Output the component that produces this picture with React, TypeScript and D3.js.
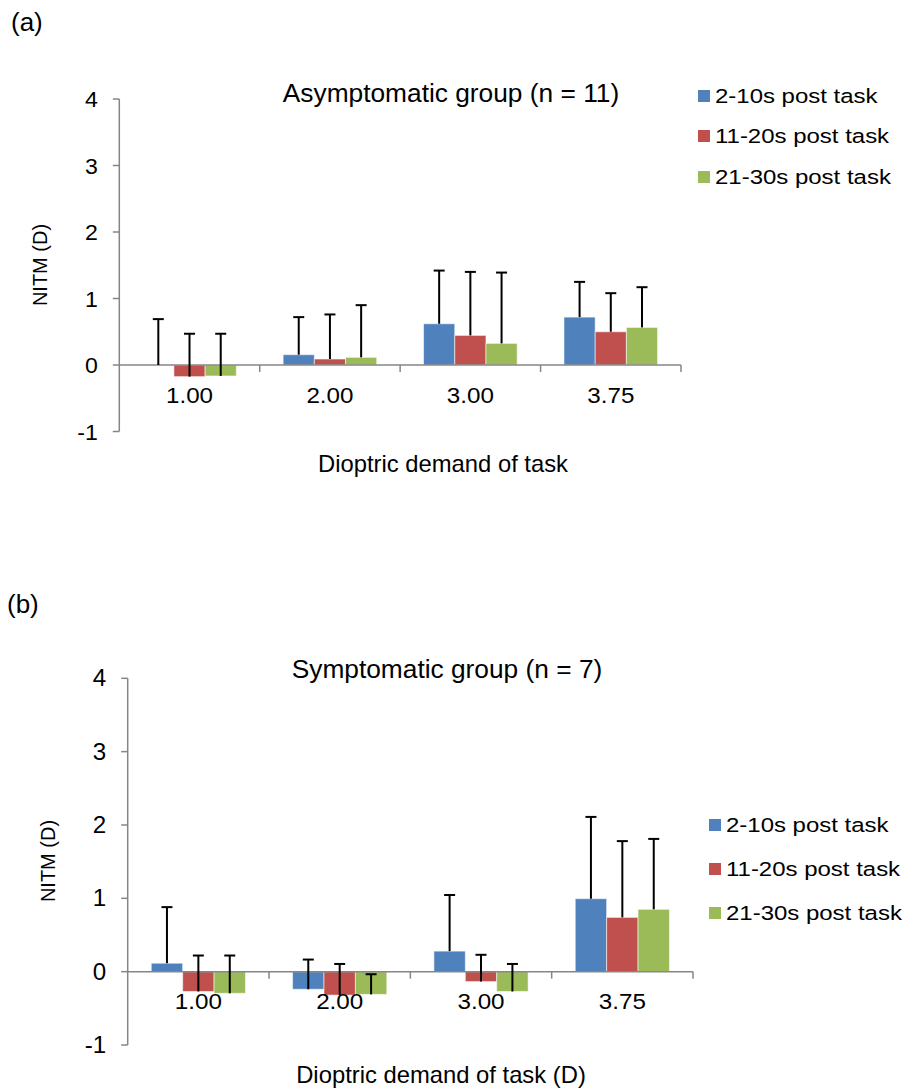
import { useEffect, useRef } from 'react';
import * as d3 from 'd3';

// Categories, series and tick values
const categories = ['1.00', '2.00', '3.00', '3.75'];
const seriesNames = ['2-10s post task', '11-20s post task', '21-30s post task'];
const seriesColors = ['#4F81BD', '#C0504D', '#9BBB59'];
const yTicks = [-1, 0, 1, 2, 3, 4];

// (a) Asymptomatic group, n = 11 : mean NITM (D)
const asymMean2to10 = [0, 0.155, 0.62, 0.72];
const asymMean11to20 = [-0.175, 0.09, 0.445, 0.5];
const asymMean21to30 = [-0.165, 0.115, 0.325, 0.565];
// (a) standard deviations (upper error bars)
const asymSd2to10 = [0.69, 0.565, 0.8, 0.53];
const asymSd11to20 = [0.645, 0.67, 0.955, 0.58];
const asymSd21to30 = [0.635, 0.785, 1.065, 0.605];

// (b) Symptomatic group, n = 7 : mean NITM (D)
const symMean2to10 = [0.115, -0.24, 0.28, 0.995];
const symMean11to20 = [-0.27, -0.32, -0.135, 0.74];
const symMean21to30 = [-0.295, -0.31, -0.27, 0.85];
// (b) standard deviations (upper error bars)
const symSd2to10 = [0.765, 0.405, 0.765, 1.115];
const symSd11to20 = [0.49, 0.425, 0.365, 1.04];
const symSd21to30 = [0.515, 0.275, 0.375, 0.96];

const FONT = '"Liberation Sans", Arial, sans-serif';
const AXIS = '#868686';

export default function App() {
  const svgRef = useRef<SVGSVGElement>(null);

  useEffect(() => {
    const svg = d3.select(svgRef.current);
    svg.selectAll('*').remove();

    // text helper, with optional horizontal stretch
    const addText = (g, str, x, y, size, anchor = 'start', sx = 1, rotate = 0) =>
      g.append('text')
        .attr('transform', `translate(${x},${y}) rotate(${rotate}) scale(${sx},1)`)
        .attr('text-anchor', anchor)
        .style('font-family', FONT)
        .style('font-size', `${size}px`)
        .style('fill', '#000')
        .text(str);

    const drawPanel = (cfg) => {
      const g = svg.append('g');
      const x0 = d3.scaleBand()
        .domain(categories)
        .range([cfg.left, cfg.right])
        .paddingInner(1 / 3)
        .paddingOuter(1 / 6);
      const x1 = d3.scaleBand()
        .domain(seriesNames)
        .range([0, x0.bandwidth()]);
      const y = d3.scaleLinear()
        .domain([-1, 4])
        .range([cfg.bottom, cfg.top]);
      const step = x0.step();

      // panel letter, title, axis titles
      addText(g, cfg.letter, cfg.letterX, cfg.letterY, 26);
      addText(g, cfg.title, cfg.titleX, cfg.titleY, 26.3, 'middle');
      addText(g, cfg.xLabel, cfg.xLabelX, cfg.xLabelY, 23.8, 'middle');
      addText(g, 'NITM (D)', cfg.yLabelX, cfg.yLabelY, 20, 'middle', 1, -90);

      // bars
      seriesNames.forEach((name, s) => {
        g.selectAll(`.bar-${s}`)
          .data(cfg.means[s])
          .enter()
          .append('rect')
          .attr('x', (d, i) => x0(categories[i]) + x1(name))
          .attr('y', d => Math.min(y(d), y(0)))
          .attr('width', x1.bandwidth())
          .attr('height', d => Math.abs(y(d) - y(0)))
          .attr('fill', seriesColors[s])
          .attr('stroke', '#ffffff')
          .attr('stroke-opacity', 0.55)
          .attr('stroke-width', 1);
      });

      // y axis
      g.append('line')
        .attr('x1', cfg.left).attr('x2', cfg.left)
        .attr('y1', y(4)).attr('y2', y(-1))
        .attr('stroke', AXIS).attr('stroke-width', 1.5);
      yTicks.forEach(t => {
        g.append('line')
          .attr('x1', cfg.left - 6.5).attr('x2', cfg.left)
          .attr('y1', y(t)).attr('y2', y(t))
          .attr('stroke', AXIS).attr('stroke-width', 1.5);
        addText(g, String(t), cfg.left - 21.5, y(t) + 8, cfg.tickSize, 'end', 1.05);
      });

      // category axis at zero
      g.append('line')
        .attr('x1', cfg.left).attr('x2', cfg.right)
        .attr('y1', y(0)).attr('y2', y(0))
        .attr('stroke', AXIS).attr('stroke-width', 1.5);
      d3.range(1, categories.length + 1).forEach(i => {
        g.append('line')
          .attr('x1', cfg.left + i * step).attr('x2', cfg.left + i * step)
          .attr('y1', y(0)).attr('y2', y(0) + 7)
          .attr('stroke', AXIS).attr('stroke-width', 1.5);
      });
      categories.forEach(c => {
        addText(g, c, x0(c) + x0.bandwidth() / 2, y(0) + 37.5, 22, 'middle', 1.1);
      });

      // error bars (upper only)
      seriesNames.forEach((name, s) => {
        cfg.means[s].forEach((m, i) => {
          const cx = x0(categories[i]) + x1(name) + x1.bandwidth() / 2;
          const top = y(m + cfg.sds[s][i]);
          g.append('line')
            .attr('x1', cx).attr('x2', cx)
            .attr('y1', y(m)).attr('y2', top)
            .attr('stroke', '#000').attr('stroke-width', 2);
          g.append('line')
            .attr('x1', cx - 5.5).attr('x2', cx + 5.5)
            .attr('y1', top).attr('y2', top)
            .attr('stroke', '#000').attr('stroke-width', 2);
        });
      });

      // legend
      seriesNames.forEach((name, s) => {
        const ly = cfg.legendY[s];
        g.append('rect')
          .attr('x', cfg.legendX)
          .attr('y', ly - 6)
          .attr('width', 12)
          .attr('height', 12)
          .attr('fill', seriesColors[s]);
        addText(g, name, cfg.legendX + 17, ly + 7, 20.5, 'start', 1.17);
      });
    };

    drawPanel({
      letter: '(a)', letterX: 11, letterY: 31,
      title: 'Asymptomatic group (n = 11)', titleX: 451, titleY: 101.5,
      xLabel: 'Dioptric demand of task', xLabelX: 443, xLabelY: 472,
      yLabelX: 47, yLabelY: 265,
      left: 119.3, right: 681, top: 99, bottom: 431.5,
      tickSize: 22,
      means: [asymMean2to10, asymMean11to20, asymMean21to30],
      sds: [asymSd2to10, asymSd11to20, asymSd21to30],
      legendX: 698, legendY: [96, 136, 177],
    });

    drawPanel({
      letter: '(b)', letterX: 7, letterY: 613,
      title: 'Symptomatic group (n = 7)', titleX: 447, titleY: 678,
      xLabel: 'Dioptric demand of task (D)', xLabelX: 441, xLabelY: 1083,
      yLabelX: 55, yLabelY: 861,
      left: 127.7, right: 693, top: 678.3, bottom: 1045,
      tickSize: 23,
      means: [symMean2to10, symMean11to20, symMean21to30],
      sds: [symSd2to10, symSd11to20, symSd21to30],
      legendX: 709, legendY: [825, 869, 913],
    });
  }, []);

  return (
    <svg
      ref={svgRef}
      width={907}
      height={1090}
      style={{ position: 'absolute', left: 0, top: 0, background: '#fff' }}
    />
  );
}
